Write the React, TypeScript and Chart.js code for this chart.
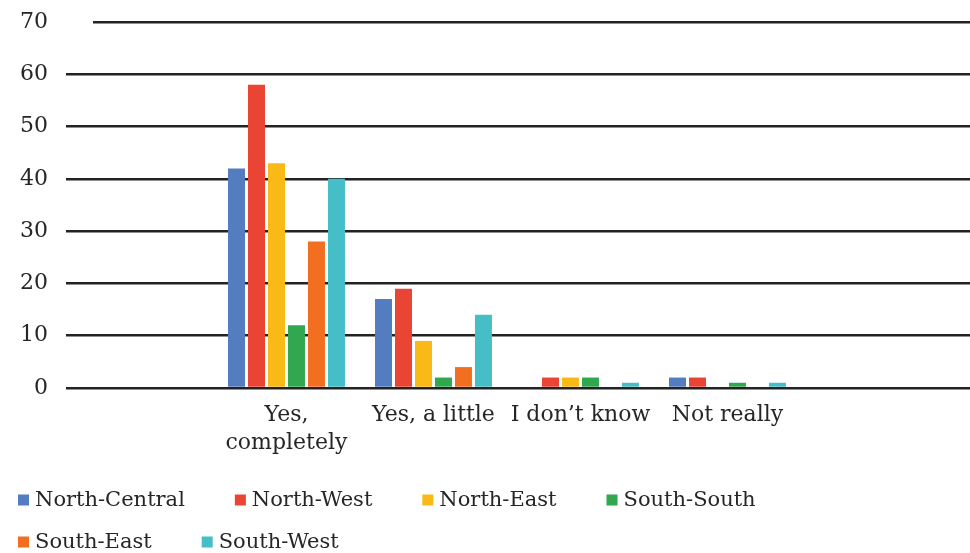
import React, { useEffect, useRef } from 'react';
import { Chart, registerables } from 'chart.js';

Chart.register(...registerables);

// Answer categories (placed at positions 1..4 on the x axis)
const categories: string[][] = [['Yes,', 'completely'], ['Yes, a little'], ['I don\u2019t know'], ['Not really']];
const regions = ['North-Central', 'North-West', 'North-East', 'South-South', 'South-East', 'South-West'];

// Percentages per region, in category order
const northCentral = [42, 17, 0, 2];
const northWest = [58, 19, 2, 2];
const northEast = [43, 9, 2, 0];
const southSouth = [12, 2, 2, 1];
const southEast = [28, 4, 0, 0];
const southWest = [40, 14, 1, 1];

const regionColors = ['#547CC0', '#EA4435', '#F9B916', '#31A750', '#F26F21', '#45BEC7'];
const yTickValues = [0, 10, 20, 30, 40, 50, 60, 70];

const FONT = '"DejaVu Serif", "Liberation Serif", serif';
const TEXT = '#262626';

// Legend drawn below the axis, left-aligned rows
const bottomLegend = {
  id: 'bottomLegend',
  afterDraw(chart: any) {
    const ctx = chart.ctx;
    ctx.save();
    ctx.font = `21px ${FONT}`;
    ctx.textBaseline = 'middle';
    const box = 11;
    const gap = 6;
    const spacing = 50;
    const startX = 18;
    let x = startX;
    let y = 500;
    chart.data.datasets.forEach((ds: any) => {
      const w = box + gap + ctx.measureText(ds.label).width;
      if (x + w > 880) {
        x = startX;
        y += 42;
      }
      ctx.fillStyle = ds.backgroundColor;
      ctx.fillRect(x, y - box / 2, box, box);
      ctx.fillStyle = TEXT;
      ctx.fillText(ds.label, x + box + gap, y + 1);
      x += w + spacing;
    });
    ctx.restore();
  },
};

// The top gridline starts a little to the right of the others
const topLineInset = {
  id: 'topLineInset',
  beforeDatasetsDraw(chart: any) {
    const { ctx, chartArea, scales } = chart;
    const yTop = scales.y.getPixelForValue(yTickValues[yTickValues.length - 1]);
    ctx.save();
    ctx.fillStyle = '#ffffff';
    ctx.fillRect(chartArea.left - 1, yTop - 4, 28, 8);
    ctx.restore();
  },
};

export default function App() {
  const canvasRef = useRef<HTMLCanvasElement | null>(null);

  useEffect(() => {
    const canvas = canvasRef.current;
    if (!canvas) return;
    const series = [northCentral, northWest, northEast, southSouth, southEast, southWest];
    const chart = new Chart(canvas, {
      type: 'bar',
      data: {
        datasets: series.map((values, i) => ({
          label: regions[i],
          data: values.map((v, j) => ({ x: j + 1, y: v })),
          backgroundColor: regionColors[i],
          borderWidth: 0,
          barPercentage: 0.85,
          categoryPercentage: 0.816,
        })),
      },
      options: {
        animation: false,
        responsive: false,
        layout: { padding: { top: 22, right: 0, bottom: 0, left: 0 } },
        plugins: {
          legend: { display: false },
          tooltip: { enabled: false },
        },
        scales: {
          x: {
            type: 'linear',
            min: -0.5,
            max: 5.65,
            offset: false,
            grid: { display: false, offset: false, drawTicks: false },
            border: { display: false },
            afterBuildTicks(scale: any) {
              scale.ticks = categories.map((_, i) => ({ value: i + 1 }));
            },
            afterFit(scale: any) {
              scale.height = 165;
            },
            ticks: {
              autoSkip: false,
              maxRotation: 0,
              minRotation: 0,
              padding: 13,
              color: TEXT,
              font: { family: FONT, size: 22, lineHeight: 1.27 },
              callback: (value: any) => {
                const idx = Math.round(Number(value)) - 1;
                return categories[idx] ?? '';
              },
            },
          },
          y: {
            min: 0,
            max: 70,
            afterBuildTicks(scale: any) {
              scale.ticks = yTickValues.map((v) => ({ value: v }));
            },
            afterFit(scale: any) {
              scale.width = 66;
              scale.paddingTop = 0;
              scale.paddingBottom = 0;
            },
            grid: { color: '#232323', lineWidth: 2.5, drawTicks: false },
            border: { display: false },
            ticks: {
              padding: 18,
              color: TEXT,
              font: { family: FONT, size: 22 },
            },
          },
        },
      },
      plugins: [topLineInset, bottomLegend],
    } as any);
    return () => chart.destroy();
  }, []);

  return (
    <div style={{ position: 'fixed', left: 0, top: 0, width: 970, height: 553, background: '#ffffff' }}>
      <canvas ref={canvasRef} width={970} height={553} style={{ display: 'block' }} />
    </div>
  );
}
